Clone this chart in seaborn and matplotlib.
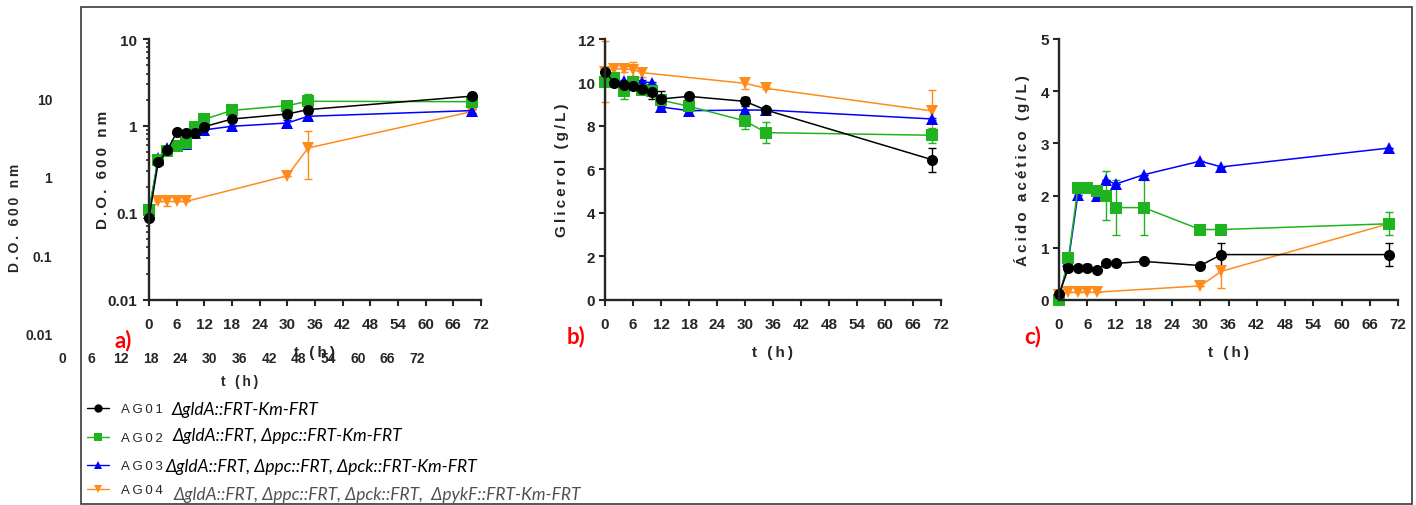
import pandas as pd
import seaborn as sns
import matplotlib.pyplot as plt
from matplotlib.lines import Line2D
from matplotlib.patches import Rectangle
from matplotlib.ticker import LogLocator, NullFormatter

# datos
t = [0, 2, 4, 6, 8, 10, 12, 18, 30, 34.5, 70]
t_ag04 = [0, 2, 4, 6, 8, 30, 34.5, 70]

strains = ['AG01', 'AG02', 'AG03', 'AG04']
genotypes = ['ΔgldA::FRT-Km-FRT',
             'ΔgldA::FRT, Δppc::FRT-Km-FRT',
             'ΔgldA::FRT, Δppc::FRT, Δpck::FRT-Km-FRT',
             'ΔgldA::FRT, Δppc::FRT, Δpck::FRT,  ΔpykF::FRT-Km-FRT']

# a) D.O. 600 nm
od_ag01 = [0.088, 0.38, 0.53, 0.84, 0.82, 0.83, 0.98, 1.2, 1.37, 1.54, 2.2]
od_ag02 = [0.108, 0.41, 0.52, 0.58, 0.63, 0.96, 1.19, 1.51, 1.71, 1.92, 1.90]
od_ag03 = [0.10, 0.43, 0.55, 0.58, 0.62, 0.83, 0.90, 0.99, 1.08, 1.29, 1.50]
od_ag04 = [0.10, 0.135, 0.135, 0.135, 0.135, 0.267, 0.557, 1.46]
od_err_ag01 = [0, 0, 0.03, 0, 0, 0, 0.05, 0.06, 0.15, 0.12, 0.1]
od_err_ag02 = [0, 0, 0, 0, 0, 0, 0.05, 0.05, 0.15, 0.4, 0.1]
od_err_ag03 = [0, 0, 0, 0, 0, 0, 0, 0, 0.08, 0.08, 0.08]
od_err_ag04 = [0, 0, 0.015, 0, 0, 0, 0.31, 0.12]

# b) Glicerol (g/L)
gli_ag01 = [10.5, 9.98, 9.88, 9.82, 9.69, 9.55, 9.24, 9.36, 9.13, 8.73, 6.45]
gli_ag02 = [10.0, 10.2, 9.6, 10.0, 9.65, 9.62, 9.19, 8.9, 8.23, 7.69, 7.57]
gli_ag03 = [10.2, 10.0, 10.08, 10.05, 10.04, 9.98, 8.87, 8.7, 8.73, 8.73, 8.32]
gli_ag04 = [10.5, 10.62, 10.62, 10.59, 10.45, 9.96, 9.73, 8.69]
gli_err_ag01 = [0, 0, 0.1, 0, 0.1, 0.3, 0.35, 0, 0.2, 0, 0.55]
gli_err_ag02 = [0, 0.2, 0.35, 0.15, 0.2, 0.1, 0, 0, 0.35, 0.5, 0.35]
gli_err_ag03 = [0, 0, 0.05, 0.05, 0.05, 0.05, 0.05, 0, 0, 0, 0.05]
gli_err_ag04 = [1.4, 0.15, 0.15, 0.35, 0.2, 0.25, 0.05, 0.95]

# c) Ácido acético (g/L)
ace_ag01 = [0.11, 0.61, 0.62, 0.62, 0.57, 0.71, 0.70, 0.74, 0.66, 0.87, 0.87]
ace_ag02 = [0.0, 0.80, 2.14, 2.15, 2.09, 2.0, 1.77, 1.77, 1.35, 1.35, 1.46]
ace_ag03 = [0.05, 0.75, 2.02, 2.15, 2.0, 2.30, 2.22, 2.40, 2.66, 2.55, 2.91]
ace_ag04 = [0.10, 0.15, 0.15, 0.15, 0.15, 0.27, 0.55, 1.46]
ace_err_ag01 = [0, 0, 0, 0.07, 0, 0, 0, 0, 0, 0.22, 0.22]
ace_err_ag02 = [0, 0, 0, 0.05, 0, 0.47, 0.52, 0.52, 0, 0, 0.22]
ace_err_ag03 = [0] * 11
ace_err_ag04 = [0, 0, 0, 0, 0, 0, 0.32, 0.03]

colors = {'AG01': '#000000', 'AG02': '#1fb41f', 'AG03': '#0000ff', 'AG04': '#ff8c1a'}
markers = {'AG01': 'o', 'AG02': 's', 'AG03': '^', 'AG04': 'v'}
draw_order = ['AG04', 'AG03', 'AG02', 'AG01']
TS = '\u2009'


def spaced(s):
    return TS.join(s)


def long_table(vals, errs):
    rows = []
    for s, v, e in zip(strains, vals, errs):
        ts = t_ag04 if s == 'AG04' else t
        for x, y, ee in zip(ts, v, e):
            rows.append((s, x, y, ee))
    return pd.DataFrame(rows, columns=['strain', 't', 'v', 'err'])


df_od = long_table([od_ag01, od_ag02, od_ag03, od_ag04],
                   [od_err_ag01, od_err_ag02, od_err_ag03, od_err_ag04])
df_gli = long_table([gli_ag01, gli_ag02, gli_ag03, gli_ag04],
                    [gli_err_ag01, gli_err_ag02, gli_err_ag03, gli_err_ag04])
df_ace = long_table([ace_ag01, ace_ag02, ace_ag03, ace_ag04],
                    [ace_err_ag01, ace_err_ag02, ace_err_ag03, ace_err_ag04])

sns.set_style('ticks')
plt.rcParams['font.family'] = ['Liberation Sans', 'DejaVu Sans']
plt.rcParams['font.weight'] = 'bold'
plt.rcParams['axes.labelweight'] = 'bold'

W, H = 1416, 506
fig = plt.figure(figsize=(W / 100, H / 100), dpi=100)


def px_axes(x0, x1, ytop, ybot):
    return fig.add_axes([x0 / W, 1 - ybot / H, (x1 - x0) / W, (ybot - ytop) / H])


# eje "fantasma" a la izquierda (sin líneas, solo textos)
ax0 = px_axes(62, 417, 99, 335)
ax0.set_facecolor('none')
ax0.set_yscale('log')
ax0.set_ylim(0.01, 10)
ax0.set_xlim(0, 72)
ax0.set_xticks(range(0, 73, 6))
ax0.set_yticks([0.01, 0.1, 1, 10], ['0.01', '0.1', '1', '10'])
ax0.yaxis.set_minor_locator(plt.NullLocator())
for sp in ax0.spines.values():
    sp.set_visible(False)
ax0.tick_params(axis='y', length=0, pad=7, labelsize=10)
ax0.tick_params(axis='x', length=0, pad=12, labelsize=10)
fig.text(15 / W, 1 - 218 / H, spaced('D.O. 600 nm'), rotation=90, ha='center', va='center', fontsize=10)
fig.text(240 / W, 1 - 382 / H, spaced('t (h)'), ha='center', va='center', fontsize=10)

ax_a = px_axes(149, 481, 40, 300.7)
ax_b = px_axes(605, 941, 40, 300.7)
ax_c = px_axes(1059, 1398, 40, 301)

panels = [(ax_a, df_od, spaced('D.O. 600 nm'), -0.139),
          (ax_b, df_gli, spaced('Glicerol (g/L)'), -0.128),
          (ax_c, df_ace, spaced('Ácido acético (g/L)'), -0.109)]

for ax, df, ylab, lx in panels:
    if ax is ax_a:
        ax.set_yscale('log')
    for s in draw_order:
        d = df[df.strain == s]
        ax.errorbar(d.t, d.v, yerr=d.err, fmt='none', ecolor=colors[s],
                    elinewidth=1, capsize=3, capthick=1, clip_on=False)
    sns.lineplot(data=df, x='t', y='v', hue='strain', style='strain',
                 hue_order=draw_order, style_order=draw_order, palette=colors,
                 markers=markers, dashes=False, markersize=8, markeredgewidth=0,
                 lw=1.1, estimator=None, errorbar=None, legend=False, ax=ax)
    for ln in ax.lines:
        ln.set_clip_on(False)
    ax.set_xlim(0, 72)
    ax.set_xticks(range(0, 73, 6))
    sns.despine(ax=ax)
    for sp in ['left', 'bottom']:
        ax.spines[sp].set_linewidth(1.7)
    ax.tick_params(axis='both', which='major', length=4.5, width=1.5, labelsize=11)
    ax.tick_params(axis='x', pad=8)
    ax.tick_params(axis='y', pad=2.5)
    ax.set_xlabel(spaced('t (h)'), fontsize=11, weight='bold')
    ax.set_ylabel(ylab, fontsize=11, weight='bold')
    ax.xaxis.set_label_coords(0.5, -0.2)
    ax.xaxis.label.set_va('center')
    ax.yaxis.set_label_coords(lx, 0.5)
    ax.yaxis.label.set(va='center', rotation_mode='anchor')

ax_a.set_ylim(0.01, 10)
ax_a.set_yticks([0.01, 0.1, 1, 10], ['0.01', '0.1', '1', '10'])
ax_a.yaxis.set_minor_locator(LogLocator(base=10, subs=range(2, 10)))
ax_a.yaxis.set_minor_formatter(NullFormatter())
ax_a.tick_params(axis='y', which='minor', length=2.5, width=1.2)
ax_a.tick_params(axis='y', pad=4)

ax_b.set_ylim(0, 12)
ax_b.set_yticks(range(0, 13, 2))
ax_c.set_ylim(0, 5)
ax_c.set_yticks(range(0, 6))

# letras de los paneles
for lab, x, y in [('a)', 123, 341), ('b)', 576, 337), ('c)', 1033, 337)]:
    fig.text(x / W, 1 - y / H, lab, color='#ff0000', fontsize=16, ha='center', va='center',
             family=['Lato', 'Liberation Sans'], weight='bold')

# leyenda
row_y = [410, 439, 467, 491]
gen_y = [410, 436, 467, 495]
gen_x = [172, 173, 166, 174]
gen_col = ['#000000', '#000000', '#000000', '#505050']
for s, g, y, gy, gx, gc in zip(strains, genotypes, row_y, gen_y, gen_x, gen_col):
    h = Line2D([], [], color=colors[s], marker=markers[s], markersize=6, lw=1, mew=0)
    fig.legend(handles=[h], labels=[spaced(s)], loc='center left',
               bbox_to_anchor=(87 / W, 1 - y / H), frameon=False,
               handlelength=1.7, handletextpad=0.9, borderpad=0, borderaxespad=0,
               prop={'weight': 'normal', 'size': 9.5})
    fig.text(gx / W, 1 - gy / H, g, color=gc, fontsize=12.5, style='italic', weight='normal',
             ha='left', va='center', family=['Lato', 'DejaVu Sans'])

# marco exterior
fig.patches.append(Rectangle((81 / W, 1 - 505 / H), (1412 - 81) / W, (505 - 8) / H,
                             transform=fig.transFigure, fill=False, edgecolor='#3a3a3a', lw=1.2))

fig.savefig('out.png', dpi=100)
